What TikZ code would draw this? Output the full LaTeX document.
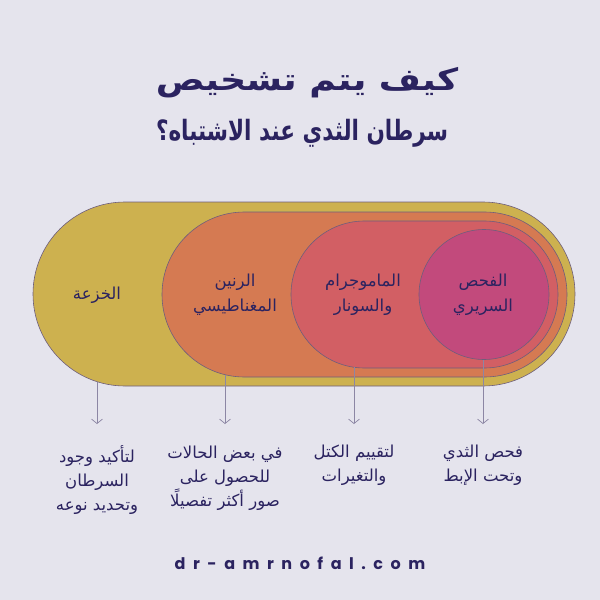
\documentclass[tikz,border=0pt]{standalone}
\usepackage{fontspec}
\usetikzlibrary{shapes.misc,arrows.meta}
\TeXXeTstate=1
\newfontfamily\arabicfont[Script=Arabic]{DejaVu Sans}
\newfontfamily\footfont[LetterSpace=47]{Poppins}
\definecolor{bgc}{HTML}{E5E4ED}
\definecolor{navy}{HTML}{2B2360}
\definecolor{goldc}{HTML}{CDB14F}
\definecolor{orangec}{HTML}{D57A52}
\definecolor{redc}{HTML}{D25F64}
\definecolor{magc}{HTML}{C24A7C}
\definecolor{edgec}{HTML}{6E5E7C}
\definecolor{arrc}{HTML}{8C86A4}
\tikzset{
  band/.style={rounded rectangle, draw=edgec, line width=0.6pt, inner sep=0pt},
  inlabel/.style={text=navy, align=center, font=\arabicfont\fontsize{16.5}{25}\selectfont},
  outlabel/.style={text=navy, align=center, anchor=north, font=\arabicfont\fontsize{16.5}{24}\selectfont},
  pointer/.style={draw=arrc, line width=0.7pt, -{Straight Barb[length=4.5pt,width=11pt]}},
  titleone/.style={text=navy, font=\arabicfont\bfseries\fontsize{30.5}{34}\selectfont},
  titletwo/.style={text=navy, font=\arabicfont\bfseries\fontsize{28}{34}\selectfont}
}
\begin{document}
\begin{tikzpicture}[x=1pt,y=-1pt]
\fill[bgc] (0,0) rectangle (600,600);
\useasboundingbox (0,0) rectangle (600,600);
\node[titleone] (title1) at (307,83) {\scalebox{1.19}[1]{\beginR كيف يتم تشخيص\endR}};
\node[titletwo] (title2) at (302,133) {\scalebox{0.77}[1]{\beginR سرطان الثدي عند الاشتباه؟\endR}};
\node[band, fill=goldc, minimum width=542pt, minimum height=184pt] (biopsy) at (304,294) {};
\node[band, fill=orangec, minimum width=405pt, minimum height=165pt] (mri) at (364.5,294.5) {};
\node[band, fill=redc, minimum width=267pt, minimum height=147pt] (mammo) at (424.5,294.5) {};
\node[circle, draw=edgec, line width=0.6pt, fill=magc, minimum size=130pt, inner sep=0pt] (clin) at (484,294.5) {};
\node[inlabel] (tbiopsy) at (97,295) {\beginR الخزعة\endR};
\node[inlabel] (tmri) at (235,295) {\beginR الرنين\endR\\\beginR المغناطيسي\endR};
\node[inlabel] (tmammo) at (363,295) {\beginR الماموجرام\endR\\\beginR والسونار\endR};
\node[inlabel] (tclin) at (483,295) {\beginR الفحص\endR\\\beginR السريري\endR};
\coordinate (s1) at (97,381.6);
\coordinate (s2) at (225,374.5);
\coordinate (s3) at (354,367);
\coordinate (s4) at (483,359.5);
\coordinate (e1) at (97,424);
\coordinate (e2) at (225,424);
\coordinate (e3) at (354,424);
\coordinate (e4) at (483,424);
\draw[pointer] (s1) -- (e1);
\draw[pointer] (s2) -- (e2);
\draw[pointer] (s3) -- (e3);
\draw[pointer] (s4) -- (e4);
\node[outlabel] (d1) at (97,442) {\beginR لتأكيد وجود\endR\\\beginR السرطان\endR\\\beginR وتحديد نوعه\endR};
\node[outlabel] (d2) at (225,442) {\beginR في بعض الحالات\endR\\\beginR للحصول على\endR\\\beginR صور أكثر تفصيلًا\endR};
\node[outlabel] (d3) at (354,441) {\beginR لتقييم الكتل\endR\\\beginR والتغيرات\endR};
\node[outlabel] (d4) at (483,441) {\beginR فحص الثدي\endR\\\beginR وتحت الإبط\endR};
\node[text=navy, font=\footfont\bfseries\fontsize{16}{18}\selectfont] (site) at (300,563) {dr-amrnofal.com};
\end{tikzpicture}
\end{document}
